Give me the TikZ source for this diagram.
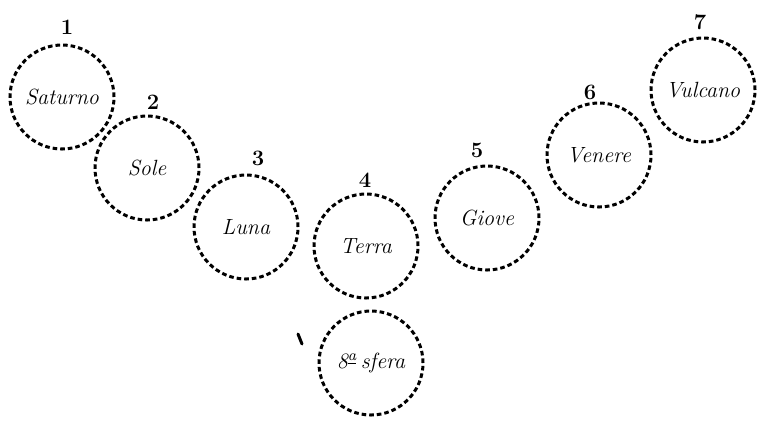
\documentclass[tikz,border=0pt]{standalone}
\usepackage{tikz}
\usetikzlibrary{positioning}
\newcommand{\hand}{\fontsize{11}{13}\selectfont\itshape}
\tikzset{
  sphere/.style={circle,draw=black,line width=1.5pt,dash pattern=on 2.3pt off 1.5pt,
                 minimum size=52pt,inner sep=0pt,font=\hand},
  rank/.style={inner sep=1pt,font=\fontsize{11}{13}\selectfont\bfseries},
}
\begin{document}
\begin{tikzpicture}[x=0.5pt,y=-0.5pt]
  \useasboundingbox (0,0) rectangle (764,420);
  \foreach \n/\x/\y/\lab in {sat/62/97/Saturno,sol/147/168/Sole,lun/246/227/Luna,
      ter/366/246/Terra,gio/487/218/Giove,ven/599/155/Venere,vul/703/90/Vulcano}{
    \node[sphere] (\n) at (\x,\y) {\lab};}
  \node[sphere] (sfe) at (371,363) {8\textsuperscript{\underline{a}}\,sfera};
  \foreach \n/\x/\y/\k in {r1/67/27/1,r2/153/102/2,r3/258/158/3,r4/365/180/4,
      r5/477/150/5,r6/590/92/6,r7/700/22/7}{
    \node[rank] (\n) at (\x,\y) {\k};}
  \draw[line width=1.5pt,line cap=round] (298,334) -- (302,344);
\end{tikzpicture}
\end{document}
